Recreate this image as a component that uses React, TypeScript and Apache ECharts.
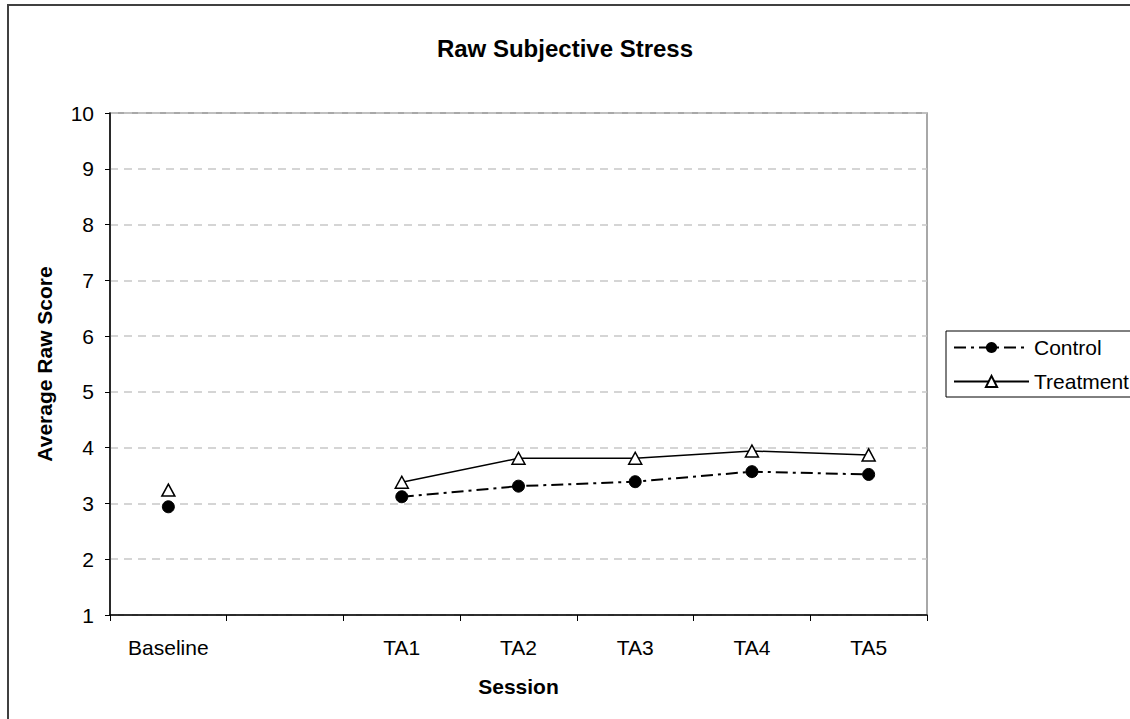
import React, { useEffect, useRef } from "react";
import * as echarts from "echarts";

const categories = ["Baseline", "", "TA1", "TA2", "TA3", "TA4", "TA5"];
const controlValues = [2.94, null, 3.12, 3.31, 3.39, 3.57, 3.52];
const treatmentValues = [3.24, null, 3.38, 3.81, 3.81, 3.94, 3.87];
const yTicks = { min: 1, max: 10, interval: 1 };

const FONT = "'Liberation Sans', Arial, sans-serif";

export default function App() {
  const ref = useRef<HTMLDivElement>(null);
  useEffect(() => {
    if (!ref.current) return;
    const chart = echarts.init(ref.current, null, { renderer: "svg" });
    chart.setOption({
      animation: false,
      backgroundColor: "#ffffff",
      textStyle: { fontFamily: FONT, color: "#000" },
      title: {
        text: "Raw Subjective Stress",
        left: "center",
        top: 31,
        textStyle: { fontFamily: FONT, fontSize: 24, fontWeight: "bold", color: "#000" },
      },
      graphic: [
        {
          type: "rect",
          shape: { x: 8, y: 5, width: 1140, height: 740 },
          style: { fill: "none", stroke: "#404040", lineWidth: 2 },
          silent: true,
        },
      ],
      grid: {
        left: 110,
        top: 113,
        width: 817,
        height: 502,
        show: true,
        borderColor: "#8c8c8c",
        borderWidth: 1.5,
        backgroundColor: "#fff",
      },
      legend: {
        left: 946,
        top: 331,
        orient: "vertical",
        padding: [6, 8, 5, 7],
        itemGap: 13,
        itemWidth: 75,
        itemHeight: 14,
        borderColor: "#000",
        borderWidth: 1,
        backgroundColor: "#fff",
        textStyle: { fontFamily: FONT, fontSize: 21, color: "#000" },
        data: ["Control", "Treatment"],
      },
      xAxis: {
        type: "category",
        data: categories,
        boundaryGap: true,
        name: "Session",
        nameLocation: "middle",
        nameGap: 61,
        nameTextStyle: { fontFamily: FONT, fontSize: 21, fontWeight: "bold", color: "#000", verticalAlign: "top" },
        axisLine: { lineStyle: { color: "#000", width: 1.5 } },
        axisTick: { show: true, interval: 0, length: 6, lineStyle: { color: "#000" } },
        axisLabel: { interval: 0, margin: 22, fontFamily: FONT, fontSize: 21, color: "#000" },
        splitLine: { show: false },
      },
      yAxis: {
        type: "value",
        min: yTicks.min,
        max: yTicks.max,
        interval: yTicks.interval,
        name: "Average Raw Score",
        nameLocation: "middle",
        nameGap: 55,
        nameTextStyle: { fontFamily: FONT, fontSize: 21, fontWeight: "bold", color: "#000" },
        axisLine: { show: true, lineStyle: { color: "#000", width: 1.5 } },
        axisTick: { show: true, length: 5, lineStyle: { color: "#000" } },
        axisLabel: { margin: 16, fontFamily: FONT, fontSize: 21, color: "#000" },
        splitLine: { show: true, lineStyle: { color: "#c8c8c8", type: [8, 6], width: 1.5 } },
      },
      series: [
        {
          name: "Control",
          type: "line",
          data: controlValues,
          connectNulls: false,
          symbol: "circle",
          symbolSize: 12,
          itemStyle: { color: "#000", borderColor: "#000" },
          lineStyle: { color: "#000", width: 2, type: [12, 5, 3, 5] },
          z: 3,
        },
        {
          name: "Treatment",
          type: "line",
          data: treatmentValues,
          connectNulls: false,
          symbol: "triangle",
          symbolSize: [13, 12],
          itemStyle: { color: "#fff", borderColor: "#000", borderWidth: 1.5 },
          lineStyle: { color: "#000", width: 1.5, type: "solid" },
          z: 2,
        },
      ],
    });
    return () => chart.dispose();
  }, []);
  return (
    <div
      ref={ref}
      style={{ position: "absolute", left: 0, top: 0, width: 1130, height: 719 }}
    />
  );
}
